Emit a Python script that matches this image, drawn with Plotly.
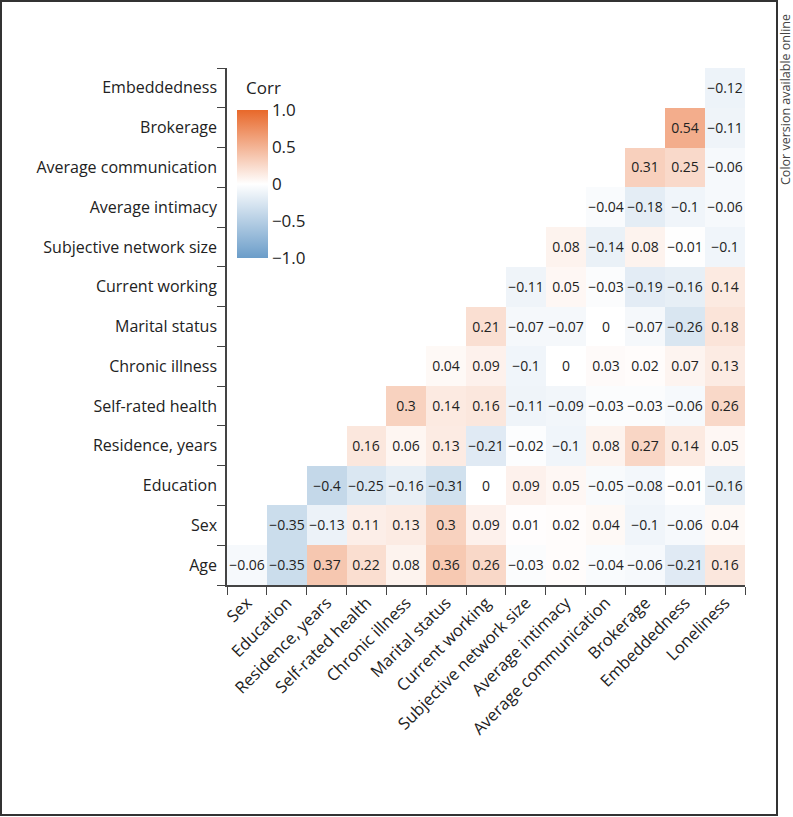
import plotly.graph_objects as go

x_labels = ["Sex", "Education", "Residence, years", "Self-rated health", "Chronic illness",
            "Marital status", "Current working", "Subjective network size", "Average intimacy",
            "Average communication", "Brokerage", "Embeddedness", "Loneliness"]
y_labels = ["Age", "Sex", "Education", "Residence, years", "Self-rated health", "Chronic illness",
            "Marital status", "Current working", "Subjective network size", "Average intimacy",
            "Average communication", "Brokerage", "Embeddedness"]

age = [-0.06, -0.35, 0.37, 0.22, 0.08, 0.36, 0.26, -0.03, 0.02, -0.04, -0.06, -0.21, 0.16]
sex = [-0.35, -0.13, 0.11, 0.13, 0.3, 0.09, 0.01, 0.02, 0.04, -0.1, -0.06, 0.04]
education = [-0.4, -0.25, -0.16, -0.31, 0, 0.09, 0.05, -0.05, -0.08, -0.01, -0.16]
residence = [0.16, 0.06, 0.13, -0.21, -0.02, -0.1, 0.08, 0.27, 0.14, 0.05]
self_rated = [0.3, 0.14, 0.16, -0.11, -0.09, -0.03, -0.03, -0.06, 0.26]
chronic = [0.04, 0.09, -0.1, 0, 0.03, 0.02, 0.07, 0.13]
marital = [0.21, -0.07, -0.07, 0, -0.07, -0.26, 0.18]
working = [-0.11, 0.05, -0.03, -0.19, -0.16, 0.14]
network_size = [0.08, -0.14, 0.08, -0.01, -0.1]
intimacy = [-0.04, -0.18, -0.1, -0.06]
communication = [0.31, 0.25, -0.06]
brokerage = [0.54, -0.11]
embeddedness = [-0.12]

rows = [age, sex, education, residence, self_rated, chronic, marital, working,
        network_size, intimacy, communication, brokerage, embeddedness]

n = len(x_labels)
z = []
text = []
for i, r in enumerate(rows):
    zr = [None] * (n - len(r)) + list(r)
    tr = ["" if v is None else f"{v:g}".replace("-", "\u2212") for v in zr]
    z.append(zr)
    text.append(tr)

colorscale = [[0.0, "#6b9dc9"], [0.5, "#ffffff"], [1.0, "#e8682a"]]

L, T, W, H = 227, 68, 518, 517

fig = go.Figure(go.Heatmap(
    x=x_labels, y=y_labels, z=z, text=text, texttemplate="%{text}",
    textfont=dict(size=14, color="#222222", family="Open Sans"),
    colorscale=colorscale, zmin=-1, zmax=1, hoverongaps=False,
    colorbar=dict(
        x=(237 - L) / W, xanchor="left", xref="paper", xpad=0, ypad=0,
        y=(T + H - 184) / H, yanchor="middle", len=(258 - 110) / H, lenmode="fraction",
        thickness=31, outlinewidth=0,
        tickvals=[1, 0.5, 0, -0.5, -1],
        ticktext=["1.0", "0.5", "0", "\u22120.5", "\u22121.0"],
        tickfont=dict(size=17, color="#222222"),
        ticks="",
    ),
))

fig.update_layout(
    width=793, height=817,
    margin=dict(l=L, r=793 - L - W, t=T, b=817 - T - H),
    paper_bgcolor="white", plot_bgcolor="white",
    font=dict(family="Open Sans", color="#222222"),
    xaxis=dict(showgrid=False, zeroline=False, showline=True, linecolor="#444444", linewidth=1.5,
               ticks="outside", tickson="boundaries", ticklen=8, tickcolor="#444444",
               tickangle=-45, tickfont=dict(size=16.5, color="#222222")),
    yaxis=dict(showgrid=False, zeroline=False, showline=True, linecolor="#444444", linewidth=1.5,
               ticks="outside", tickson="boundaries", ticklen=8, tickcolor="#444444",
               ticklabelstandoff=5,
               tickfont=dict(size=16, color="#222222")),
    shapes=[dict(type="rect", xref="paper", yref="paper",
                 x0=(1 - L) / W, x1=(777 - L) / W,
                 y0=(T + H - 815) / H, y1=(T + H - 1) / H,
                 line=dict(color="#333333", width=2))],
    annotations=[
        dict(text="Color version available online", xref="paper", yref="paper",
             x=(785 - L) / W, y=(T + H - 100) / H, textangle=-90,
             showarrow=False, font=dict(size=12.5, color="#444444"),
             xanchor="center", yanchor="middle"),
        dict(text="Corr", xref="paper", yref="paper",
             x=(244 - L) / W, y=(T + H - 87) / H, showarrow=False,
             font=dict(size=17, color="#222222"), xanchor="left", yanchor="middle"),
    ],
)

fig.write_html("out.html", config={"displayModeBar": False},
               post_script="document.body.style.margin='0';")
